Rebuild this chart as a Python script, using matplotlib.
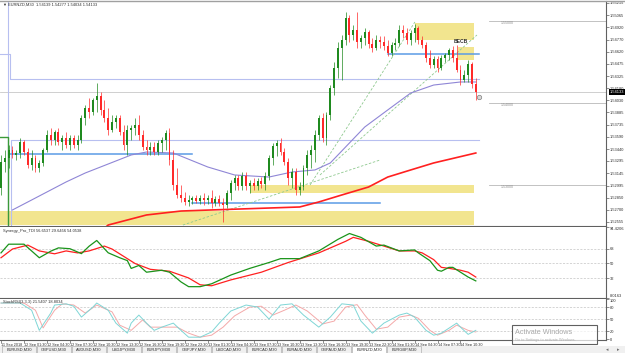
import numpy as np
import matplotlib.pyplot as plt
from matplotlib.patches import Rectangle

# ---- price candles (EURNZD, M30) ----
opens = [1.52967, 1.53283, 1.53331, 1.53429, 1.53368, 1.53392, 1.53526, 1.53404, 1.53246, 1.53331,
         1.53210, 1.53271, 1.53429, 1.53611, 1.53550, 1.53647, 1.53526, 1.53574, 1.53489, 1.53574,
         1.53489, 1.53550, 1.53817, 1.53939, 1.53890, 1.54036, 1.54085, 1.53915, 1.53817, 1.53672,
         1.53769, 1.53817, 1.53647, 1.53489, 1.53672, 1.53696, 1.53732, 1.53611, 1.53465, 1.53429,
         1.53465, 1.53404, 1.53514, 1.53550, 1.53635, 1.53307, 1.53003, 1.52882, 1.52845, 1.52797,
         1.52821, 1.52845, 1.52809, 1.52845, 1.52821, 1.52845, 1.52785, 1.52833, 1.52785, 1.52760,
         1.52906, 1.53028, 1.53088, 1.52991, 1.53113, 1.52991, 1.53028, 1.52991, 1.53052, 1.53015,
         1.53113, 1.53331, 1.53477, 1.53514, 1.53404, 1.53283, 1.53088, 1.53161, 1.52943, 1.52979,
         1.53210, 1.53368, 1.53429, 1.53611, 1.53817, 1.53574, 1.53854, 1.54182, 1.54425, 1.54668,
         1.54765, 1.55032, 1.54826, 1.54887, 1.54741, 1.54789, 1.54862, 1.54716, 1.54668, 1.54765,
         1.54741, 1.54692, 1.54607, 1.54704, 1.54729, 1.54887, 1.54850, 1.54765, 1.54850, 1.54911,
         1.54765, 1.54704, 1.54546, 1.54461, 1.54534, 1.54425, 1.54546, 1.54583, 1.54644, 1.54546,
         1.54401, 1.54279, 1.54340, 1.54473, 1.54230]
highs = [1.53368, 1.53429, 1.53489, 1.53477, 1.53429, 1.53574, 1.53550, 1.53453, 1.53429, 1.53368,
         1.53307, 1.53453, 1.53672, 1.53696, 1.53672, 1.53696, 1.53611, 1.53647, 1.53611, 1.53611,
         1.53611, 1.53854, 1.53975, 1.54060, 1.54060, 1.54243, 1.54133, 1.54036, 1.53939, 1.53854,
         1.53854, 1.53854, 1.53732, 1.53732, 1.53732, 1.53817, 1.53854, 1.53672, 1.53550, 1.53526,
         1.53526, 1.53550, 1.53586, 1.53672, 1.53696, 1.53429, 1.53210, 1.53003, 1.52918, 1.52882,
         1.52870, 1.52882, 1.52882, 1.52906, 1.52882, 1.52943, 1.52870, 1.52882, 1.52845, 1.52943,
         1.53064, 1.53125, 1.53125, 1.53161, 1.53161, 1.53064, 1.53088, 1.53088, 1.53100, 1.53161,
         1.53368, 1.53514, 1.53550, 1.53574, 1.53453, 1.53331, 1.53210, 1.53210, 1.53040, 1.53246,
         1.53429, 1.53489, 1.53672, 1.53854, 1.53878, 1.53890, 1.54218, 1.54498, 1.54741, 1.54826,
         1.55105, 1.55069, 1.54947, 1.55105, 1.54826, 1.54911, 1.54887, 1.54789, 1.54826, 1.54814,
         1.54814, 1.54765, 1.54741, 1.54789, 1.54947, 1.54947, 1.54911, 1.54887, 1.54959, 1.54935,
         1.54814, 1.54741, 1.54644, 1.54571, 1.54571, 1.54583, 1.54607, 1.54668, 1.54692, 1.54704,
         1.54461, 1.54401, 1.54522, 1.54498, 1.54303]
lows = [1.52882, 1.53161, 1.53210, 1.53331, 1.53307, 1.53331, 1.53368, 1.53210, 1.53186, 1.53161,
        1.53161, 1.53234, 1.53404, 1.53489, 1.53489, 1.53489, 1.53429, 1.53453, 1.53429, 1.53453,
        1.53429, 1.53514, 1.53732, 1.53817, 1.53854, 1.53890, 1.53854, 1.53769, 1.53611, 1.53647,
        1.53696, 1.53611, 1.53429, 1.53368, 1.53550, 1.53611, 1.53550, 1.53429, 1.53368, 1.53368,
        1.53368, 1.53368, 1.53404, 1.53429, 1.53246, 1.52943, 1.52845, 1.52797, 1.52760, 1.52748,
        1.52772, 1.52785, 1.52772, 1.52760, 1.52772, 1.52724, 1.52748, 1.52748, 1.52554, 1.52724,
        1.52821, 1.52943, 1.52943, 1.52943, 1.52943, 1.52906, 1.52943, 1.52943, 1.52967, 1.52943,
        1.53064, 1.53246, 1.53356, 1.53368, 1.53246, 1.53003, 1.52967, 1.52882, 1.52882, 1.52943,
        1.53125, 1.53210, 1.53283, 1.53550, 1.53526, 1.53489, 1.53793, 1.54097, 1.54303, 1.54279,
        1.54704, 1.54741, 1.54765, 1.54668, 1.54668, 1.54704, 1.54668, 1.54619, 1.54644, 1.54668,
        1.54644, 1.54571, 1.54571, 1.54644, 1.54692, 1.54789, 1.54716, 1.54704, 1.54741, 1.54716,
        1.54668, 1.54498, 1.54425, 1.54425, 1.54376, 1.54401, 1.54498, 1.54522, 1.54498, 1.54376,
        1.54218, 1.54255, 1.54255, 1.54182, 1.54036]
closes = [1.53283, 1.53331, 1.53429, 1.53368, 1.53392, 1.53526, 1.53404, 1.53246, 1.53331, 1.53210,
          1.53271, 1.53429, 1.53611, 1.53550, 1.53647, 1.53526, 1.53574, 1.53489, 1.53574, 1.53489,
          1.53550, 1.53817, 1.53939, 1.53890, 1.54036, 1.54085, 1.53915, 1.53817, 1.53672, 1.53769,
          1.53817, 1.53647, 1.53489, 1.53672, 1.53696, 1.53732, 1.53611, 1.53465, 1.53429, 1.53465,
          1.53404, 1.53514, 1.53550, 1.53635, 1.53307, 1.53003, 1.52882, 1.52845, 1.52797, 1.52821,
          1.52845, 1.52809, 1.52845, 1.52821, 1.52845, 1.52785, 1.52833, 1.52785, 1.52760, 1.52906,
          1.53028, 1.53088, 1.52991, 1.53113, 1.52991, 1.53028, 1.52991, 1.53052, 1.53015, 1.53113,
          1.53331, 1.53477, 1.53514, 1.53404, 1.53283, 1.53088, 1.53161, 1.52943, 1.52979, 1.53210,
          1.53368, 1.53429, 1.53611, 1.53817, 1.53574, 1.53854, 1.54182, 1.54425, 1.54668, 1.54765,
          1.55032, 1.54826, 1.54887, 1.54741, 1.54789, 1.54862, 1.54716, 1.54668, 1.54765, 1.54741,
          1.54692, 1.54607, 1.54704, 1.54729, 1.54887, 1.54850, 1.54765, 1.54850, 1.54911, 1.54765,
          1.54704, 1.54546, 1.54461, 1.54534, 1.54425, 1.54546, 1.54583, 1.54644, 1.54546, 1.54401,
          1.54279, 1.54340, 1.54473, 1.54230, 1.54133]

# moving averages sampled at bar indices
ma_slow_idx = [3, 8, 17, 22, 26, 34, 38, 45, 54, 61, 70, 76, 82, 86, 91, 95, 101, 107, 113, 120, 124]
ma_slow = [1.52700, 1.52821, 1.53040, 1.53149, 1.53222, 1.53368, 1.53404, 1.53392, 1.53222, 1.53125,
           1.53100, 1.53161, 1.53186, 1.53271, 1.53514, 1.53708, 1.53915, 1.54121, 1.54218, 1.54255, 1.54255]
ma_long_idx = [26, 28, 38, 47, 55, 78, 83, 89, 96, 101, 107, 113, 124]
ma_long = [1.52440, 1.52517, 1.52639, 1.52687, 1.52700, 1.52736, 1.52797, 1.52882, 1.52979, 1.53100,
           1.53186, 1.53271, 1.53392]

# levels and zones
day_high_levels = [1.54595, 1.54291]
day_low_levels = [1.55400, 1.52300, 1.53550]
green_step_levels = [1.53586, 1.52000]
blue_levels = [(2.3, 50.0, 1.53380), (50.0, 99.0, 1.52785), (101.0, 124.8, 1.54595)]
zones = [(108.0, 123.5, 1.54765, 1.54972), (119.3, 123.5, 1.54522, 1.54680),
         (65.0, 123.5, 1.52906, 1.53003), (-0.5, 123.5, 1.52517, 1.52687)]
trend_lines = [((80.7, 1.53003), (108.1, 1.54984)), ((83.3, 1.53125), (124.3, 1.54826)),
               ((47.5, 1.52517), (99.0, 1.53307))]
round_levels = [1.55000, 1.54000, 1.53000]
round_labels = ["1.55000", "1.54000", "1.53000"]
bid = 1.54133
alert_price = 1.54073

price_ticks = [1.55215, 1.55065, 1.54920, 1.54770, 1.54620, 1.54475, 1.54325, 1.54180, 1.54030, 1.53885,
               1.53735, 1.53590, 1.53440, 1.53295, 1.53145, 1.52995, 1.52850, 1.52700, 1.52555]

# Synergy TDI
tdi_fast_idx = [0, 2, 6, 10, 13, 15, 18, 21, 23, 25, 28, 31, 33, 34, 36, 38, 42, 44, 47, 49, 52, 55, 60,
                65, 70, 73, 78, 83, 88, 91, 94, 98, 100, 104, 108, 109, 112, 114, 115, 117, 118, 120, 122, 124]
tdi_fast = [62.9, 73.5, 73.5, 57.0, 65.0, 69.0, 68.0, 62.0, 71.0, 78.0, 63.0, 57.0, 53.5, 44.0, 47.6, 39.4,
            41.8, 39.4, 27.6, 21.8, 21.8, 25.3, 35.9, 44.1, 51.2, 55.9, 55.9, 65.3, 79.4, 86.5, 81.8, 71.2,
            72.4, 65.3, 66.5, 62.9, 53.5, 41.8, 40.6, 45.3, 45.3, 39.4, 33.5, 28.8]
tdi_slow_idx = [0, 3, 7, 10, 14, 17, 20, 23, 27, 29, 35, 39, 44, 49, 52, 55, 60, 68, 75, 83, 90, 92, 96,
                100, 104, 108, 110, 113, 115, 117, 120, 122, 124]
tdi_slow = [57.0, 67.6, 72.4, 65.3, 61.8, 65.3, 62.9, 65.3, 71.2, 67.6, 50.0, 42.9, 40.6, 32.4, 24.1, 22.9,
            30.0, 39.4, 51.2, 62.9, 77.0, 81.8, 77.0, 71.2, 65.3, 65.3, 62.9, 54.7, 45.3, 44.1, 41.8, 39.4, 33.5]
tdi_levels = [68, 50, 32]

# StochRSI
st_main_idx = [0, 5, 8, 10, 13, 14, 17, 19, 21, 24, 25, 28, 30, 33, 34, 36, 38, 40, 42, 45, 47, 49, 52, 55,
               57, 60, 64, 67, 70, 73, 76, 79, 83, 86, 89, 92, 94, 97, 100, 103, 104, 106, 108, 111, 113,
               115, 119, 120, 122, 124]
st_main = [90, 90, 72, 22, 65, 85, 88, 82, 55, 80, 90, 72, 40, 15, 40, 60, 40, 22, 30, 40, 22, 5, 5, 18,
           40, 70, 85, 80, 50, 85, 88, 60, 30, 55, 88, 85, 45, 15, 40, 55, 60, 65, 55, 22, 10,
           15, 40, 30, 12, 22]
st_sig_idx = [0, 6, 9, 11, 14, 16, 19, 22, 25, 29, 31, 34, 37, 39, 42, 46, 49, 52, 55, 58, 61, 65, 68, 71,
              74, 77, 80, 84, 87, 90, 93, 95, 98, 101, 104, 107, 109, 112, 114, 117, 119, 122, 124]
st_sig = [90, 90, 72, 28, 72, 88, 85, 65, 85, 68, 35, 22, 48, 30, 30, 30, 15, 5, 10, 30, 58, 80, 82, 60,
          72, 85, 70, 38, 45, 80, 86, 60, 25, 30, 55, 60, 52, 22, 10, 22, 35, 22, 18]
st_levels = [80, 50, 20]

time_labels = ["11 Sep 2018", "12 Sep 01:30", "12 Sep 04:30", "12 Sep 07:30", "12 Sep 10:30",
               "12 Sep 13:30", "12 Sep 16:30", "12 Sep 19:30", "12 Sep 22:30", "13 Sep 01:30",
               "13 Sep 04:30", "13 Sep 07:30", "13 Sep 10:30", "13 Sep 13:30", "13 Sep 16:30",
               "13 Sep 19:30", "13 Sep 22:30", "14 Sep 01:30", "14 Sep 04:30", "14 Sep 07:30",
               "14 Sep 10:30"]
tabs = ["EURUSD,M30", "GBPUSD,M30", "AUDUSD,M30", "USDJPY,M30", "EURJPY,M30", "GBPJPY,M30",
        "USDCAD,M30", "EURCAD,M30", "EURAUD,M30", "GBPAUD,M30", "EURNZD,M30", "EURGBP,M30"]
active_tab = "EURNZD,M30"

plt.rcParams["font.family"] = ["Liberation Sans", "DejaVu Sans"]
W, H = 625, 353
fig = plt.figure(figsize=(W / 100, H / 100), dpi=100)
XL = (-0.26, 158.0)
AX_COL = "#606060"
TXT = "#303030"
FS = 2.9


def panel(y0, y1):
    ax = fig.add_axes([0, 1 - y1 / H, 606 / W, (y1 - y0) / H])
    ax.set_xlim(*XL)
    for s in ("left", "top"):
        ax.spines[s].set_visible(False)
    for s in ("right", "bottom"):
        ax.spines[s].set_color(AX_COL)
        ax.spines[s].set_linewidth(0.8)
    ax.yaxis.tick_right()
    ax.tick_params(axis="y", labelsize=FS, length=2, width=0.5, colors=AX_COL, labelcolor=TXT, pad=1)
    ax.tick_params(axis="x", bottom=False, labelbottom=False)
    return ax


# ---- main chart ----
ax = panel(1, 226)
ax.set_ylim(1.52505, 1.55239)
n = len(closes)
idx = np.arange(n)

for x0, x1, lo, hi in zones:
    ax.add_patch(Rectangle((x0, lo), x1 - x0, hi - lo, facecolor="#f2e58f", edgecolor="none", zorder=0))

ax.axhline(bid, color="#c8c8c8", lw=0.6, zorder=1)
for lvl, lab in zip(round_levels, round_labels):
    ax.plot([127.5, XL[1]], [lvl, lvl], color="#b8b8b8", lw=0.6, zorder=1)
    ax.text(130.6, lvl, lab, fontsize=2.6, color="#909090", va="top", ha="left")

ax.step([-0.3, 2.3, 2.3, 124.8], [day_high_levels[0], day_high_levels[0], day_high_levels[1], day_high_levels[1]],
        where="post", color="#b7bff0", lw=0.8, zorder=1)
ax.plot([-0.3, 1.8, 1.8, 2.6, 2.6, 124.8],
        [day_low_levels[0], day_low_levels[0], day_low_levels[1], day_low_levels[1], day_low_levels[2],
         day_low_levels[2]], color="#b7bff0", lw=0.8, zorder=1)
ax.plot([-0.3, 1.8, 1.8], [green_step_levels[0], green_step_levels[0], green_step_levels[1]],
        color="#3a9a3a", lw=1.0, zorder=1)
for x0, x1, lvl in blue_levels:
    ax.plot([x0, x1], [lvl, lvl], color="#5b9be6", lw=1.1, zorder=1)
for (xa, ya), (xb, yb) in trend_lines:
    ax.plot([xa, xb], [ya, yb], color="#8fc98f", lw=0.6, ls=(0, (3, 2)), zorder=1)

ax.plot(ma_slow_idx, ma_slow, color="#8f86d6", lw=0.8, zorder=2)
ax.plot(ma_long_idx, ma_long, color="#ff2020", lw=1.2, zorder=2)

o, h, l, c = map(np.array, (opens, highs, lows, closes))
up = c >= o
cols = np.where(up, "#1f8a1f", "#ff2a2a")
ax.vlines(idx, l, h, colors=cols, lw=0.5, zorder=3)
body = np.maximum(np.abs(c - o), 0.00006)
ax.bar(idx, body, bottom=np.minimum(o, c), width=0.5, color=cols, edgecolor="none", zorder=4)

ax.plot([124.8], [alert_price], marker="o", ms=3.2, mfc="#d8d8d8", mec="#808080", mew=0.5, zorder=5)
ax.text(120.0, 1.54720, "BECB", fontsize=3.6, fontweight="bold", color="#303030", ha="center", va="bottom")

ax.set_yticks(price_ticks)
ax.set_yticklabels([f"{p:.5f}" for p in price_ticks])
ax.text(1.006, bid, f"{bid:.5f}", transform=ax.get_yaxis_transform(), fontsize=FS, color="white",
        va="center", ha="left", zorder=20, clip_on=False,
        bbox=dict(boxstyle="square,pad=0.25", fc="black", ec="none"))

# ---- Synergy TDI ----
ax2 = panel(227, 298)
ax2.set_ylim(8.0, 94.42)
for lv in tdi_levels:
    ax2.axhline(lv, color="#c4c4c4", lw=0.5, ls=(0, (3, 2)))
ax2.plot(tdi_slow_idx, tdi_slow, color="#ff2020", lw=0.9)
ax2.plot(tdi_fast_idx, tdi_fast, color="#1a941a", lw=0.9)
ax2.set_yticks([94.42, 68, 50, 32, 8.0])
ax2.set_yticklabels(["94.4206", "68", "50", "32", "8.0163"])
ax2.get_yticklabels()[0].set_va("top")
ax2.get_yticklabels()[-1].set_va("bottom")
ax2.text(0.005, 0.97, "Synergy_Pro_TDI 56.6537 29.6456 54.0538", transform=ax2.transAxes,
         fontsize=FS, color=TXT, va="top")

# ---- StochRSI ----
ax3 = panel(299, 340)
ax3.set_ylim(-2, 100)
for lv in st_levels:
    ax3.axhline(lv, color="#c4c4c4", lw=0.5, ls=(0, (3, 2)))
ax3.plot(st_sig_idx, st_sig, color="#f4a9a9", lw=0.7)
ax3.plot(st_main_idx, st_main, color="#7fd6d6", lw=0.7)
ax3.set_yticks([100, 80, 50, 20, 0])
ax3.set_yticklabels(["100", "80", "50", "20", "0"])
ax3.get_yticklabels()[0].set_va("top")
ax3.text(0.005, 0.97, "StochRSI(3,3,3) 21.5407 18.8034", transform=ax3.transAxes,
         fontsize=FS, color=TXT, va="top")
ax3.tick_params(axis="x", bottom=True, labelbottom=True, labelsize=2.7, length=2, width=0.5,
                colors=AX_COL, labelcolor=TXT, pad=0.5)
ax3.set_xticks([6 * k for k in range(len(time_labels))])
ax3.set_xticklabels(time_labels)
for t in ax3.get_xticklabels():
    t.set_ha("left")

# ---- window chrome ----
ov = fig.add_axes([0, 0, 1, 1], zorder=10)
ov.set_xlim(0, W)
ov.set_ylim(H, 0)
ov.axis("off")
ov.patch.set_alpha(0)
ov.plot([0, W], [0.5, 0.5], color="#a0a0a0", lw=1)
ov.text(3, 5, "\u25bc EURNZD,M30  1.54139 1.54277 1.54034 1.54133", fontsize=FS, color=TXT, va="center")
ov.add_patch(Rectangle((0, 345.5), W, 8, facecolor="#f0f0f0", edgecolor="none"))
for i, t in enumerate(tabs):
    x0 = 2 + 35 * i
    fc = "white" if t == active_tab else "#f0f0f0"
    ov.add_patch(Rectangle((x0, 346), 34, 7, facecolor=fc, edgecolor="#b0b0b0", lw=0.5))
    ov.text(x0 + 17, 349.7, t, fontsize=2.9, color=TXT, ha="center", va="center")
ov.text(607, 349.5, "\u25c2", fontsize=3.5, color="#707070", ha="center", va="center")
ov.text(618, 349.5, "\u25b8", fontsize=3.5, color="#707070", ha="center", va="center")
ov.add_patch(Rectangle((512, 325), 85, 19, facecolor=(1, 1, 1, 0.7), edgecolor="#606060", lw=0.8))
ov.text(515, 332.5, "Activate Windows", fontsize=5.2, color="#a8a8a8", va="center")
ov.text(515, 340.5, "Go to Settings to activate Windows.", fontsize=2.8, color="#b0b0b0", va="center")

fig.savefig("out.png", dpi=100)
